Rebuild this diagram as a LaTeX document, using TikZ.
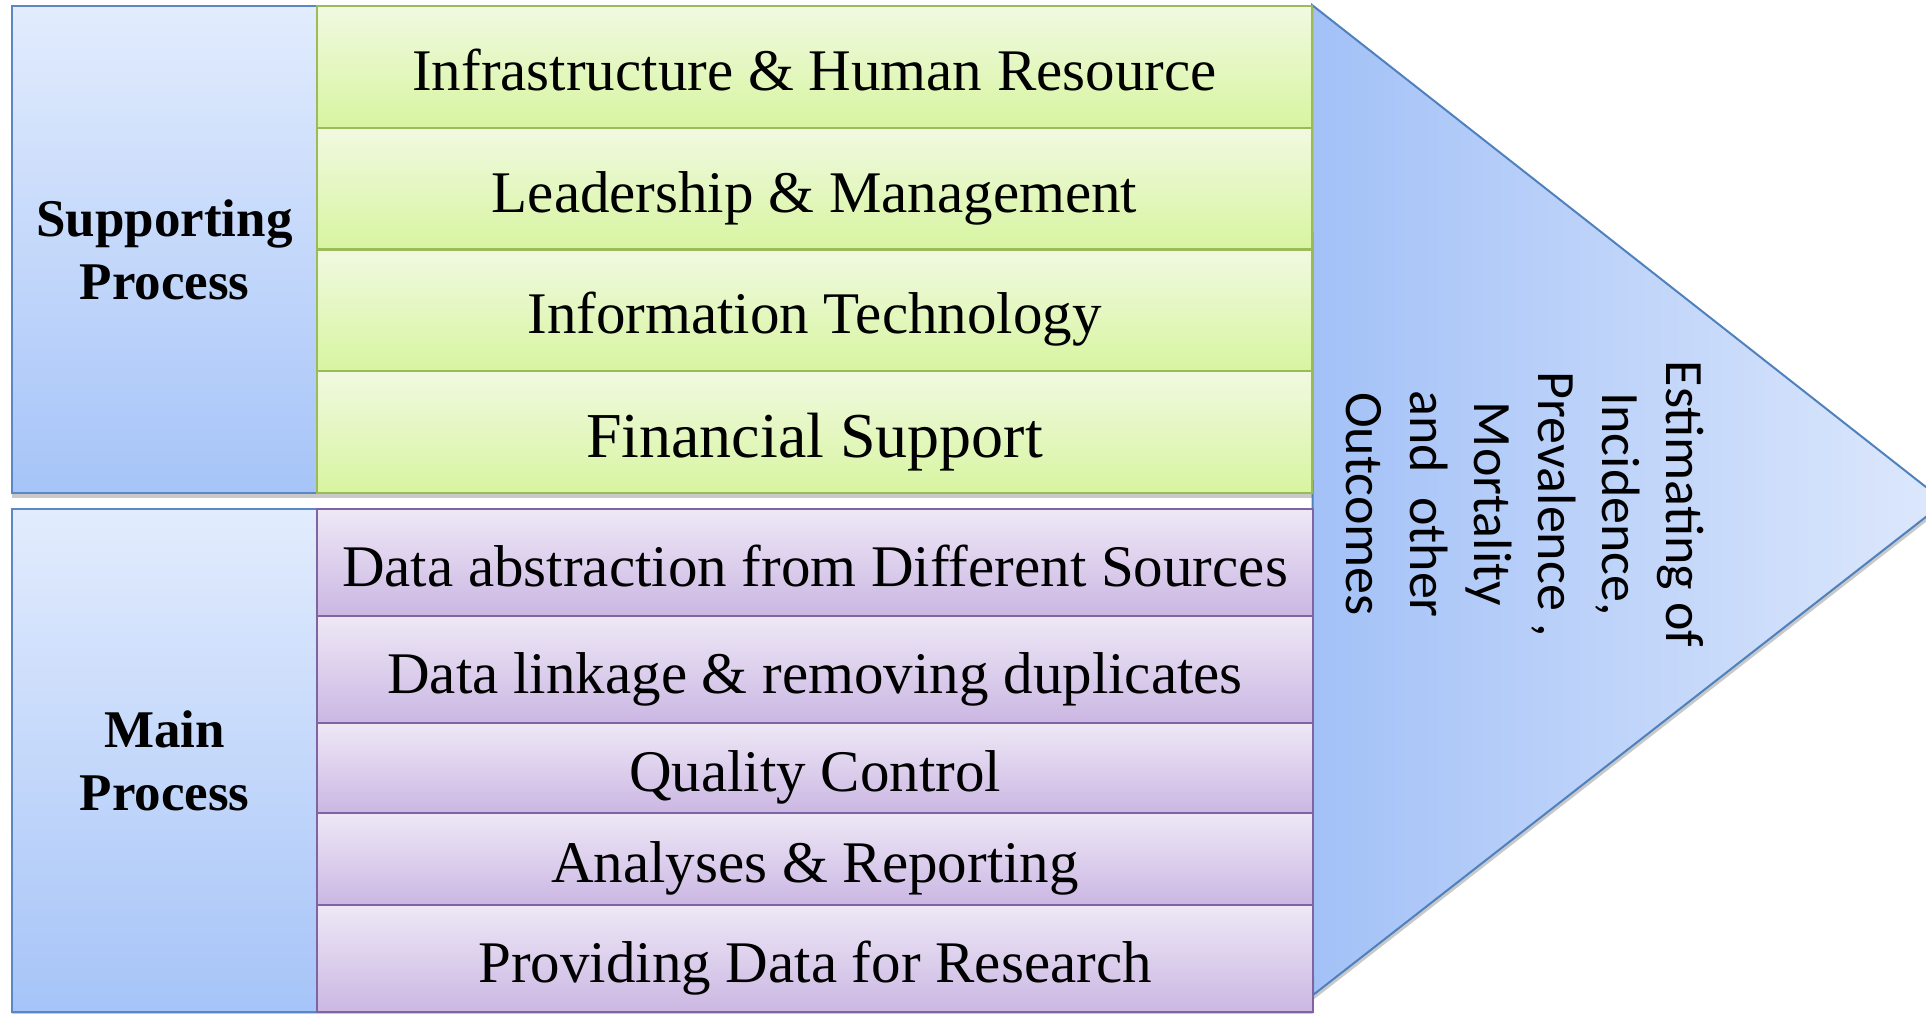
\documentclass[tikz,border=0pt]{standalone}
\usepackage{fontspec}
\setmainfont{Liberation Serif}
\newfontfamily\calib{Carlito}
\usetikzlibrary{shadows}
\definecolor{lbTop}{HTML}{E2ECFD}
\definecolor{lbBot}{HTML}{A6C4F8}
\definecolor{lbLine}{HTML}{5B87C6}
\definecolor{grTop}{HTML}{F1F9E1}
\definecolor{grBot}{HTML}{D7F5A0}
\definecolor{grLine}{HTML}{9BBB59}
\definecolor{puTop}{HTML}{EEE8F6}
\definecolor{puBot}{HTML}{CBB7E3}
\definecolor{puLine}{HTML}{8064A2}
\definecolor{trL}{HTML}{A3C1F7}
\definecolor{trR}{HTML}{DDE8FC}
\definecolor{trLine}{HTML}{4F81BD}
\tikzset{
  softshadow/.style={drop shadow={shadow xshift=0pt, shadow yshift=-2.5pt, opacity=0.3, fill=black!70}},
  sidebox/.style={draw=lbLine, line width=1.1pt, top color=lbTop, bottom color=lbBot,
    anchor=north west, inner sep=0pt, outer sep=0pt, minimum width=152.5pt,
    align=center, font=\bfseries\fontsize{26.5}{31.5}\selectfont, softshadow},
  greenrow/.style={draw=grLine, line width=1.1pt, top color=grTop, bottom color=grBot,
    anchor=north west, inner sep=0pt, outer sep=0pt, minimum width=497.5pt,
    minimum height=60.875pt, font=\fontsize{29.5}{35}\selectfont,
    text height=23.6pt, text depth=0pt, softshadow},
  purplerow/.style={draw=puLine, line width=1.1pt, top color=puTop, bottom color=puBot,
    anchor=north west, inner sep=0pt, outer sep=0pt, minimum width=498pt,
    font=\fontsize{29.5}{35}\selectfont, text height=23.6pt, text depth=0pt, softshadow},
}
\begin{document}
\begin{tikzpicture}[x=0.5pt,y=-0.5pt]
\useasboundingbox (0,0) rectangle (1926,1013);
% outcome triangle
\path[draw=trLine, line width=1pt, left color=trL, right color=trR, softshadow]
  (1312,5) -- (1945,502) -- (1313,995) -- cycle;
\node[rotate=-90, align=center, font=\calib\fontsize{27}{32}\selectfont] (outcome) at (1525,504)
  {Estimating of\\Incidence,\\Prevalence ,\\Mortality\\and~~other\\Outcomes};
% supporting process
\node[sidebox, minimum height=243.5pt] (sup) at (12,6) {Supporting\\Process};
\node[greenrow] (g1) at (317,6) {Infrastructure \& Human Resource};
\node[greenrow] (g2) at (317,127.75) {Leadership \& Management};
\node[greenrow] (g3) at (317,249.5) {Information Technology};
\node[greenrow, font=\fontsize{32}{38}\selectfont, text height=25.6pt] (g4) at (317,371.25) {Financial Support};
% main process
\node[sidebox, minimum height=251.5pt] (mainp) at (12,509) {Main\\Process};
\node[purplerow, minimum height=53.5pt] (p1) at (317,509) {Data abstraction from Different Sources};
\node[purplerow, minimum height=53.5pt] (p2) at (317,616) {Data linkage \& removing duplicates};
\node[purplerow, minimum height=45pt] (p3) at (317,723) {Quality Control};
\node[purplerow, minimum height=46pt] (p4) at (317,813) {Analyses \& Reporting};
\node[purplerow, minimum height=53.5pt] (p5) at (317,905) {Providing Data for Research};
\end{tikzpicture}
\end{document}
